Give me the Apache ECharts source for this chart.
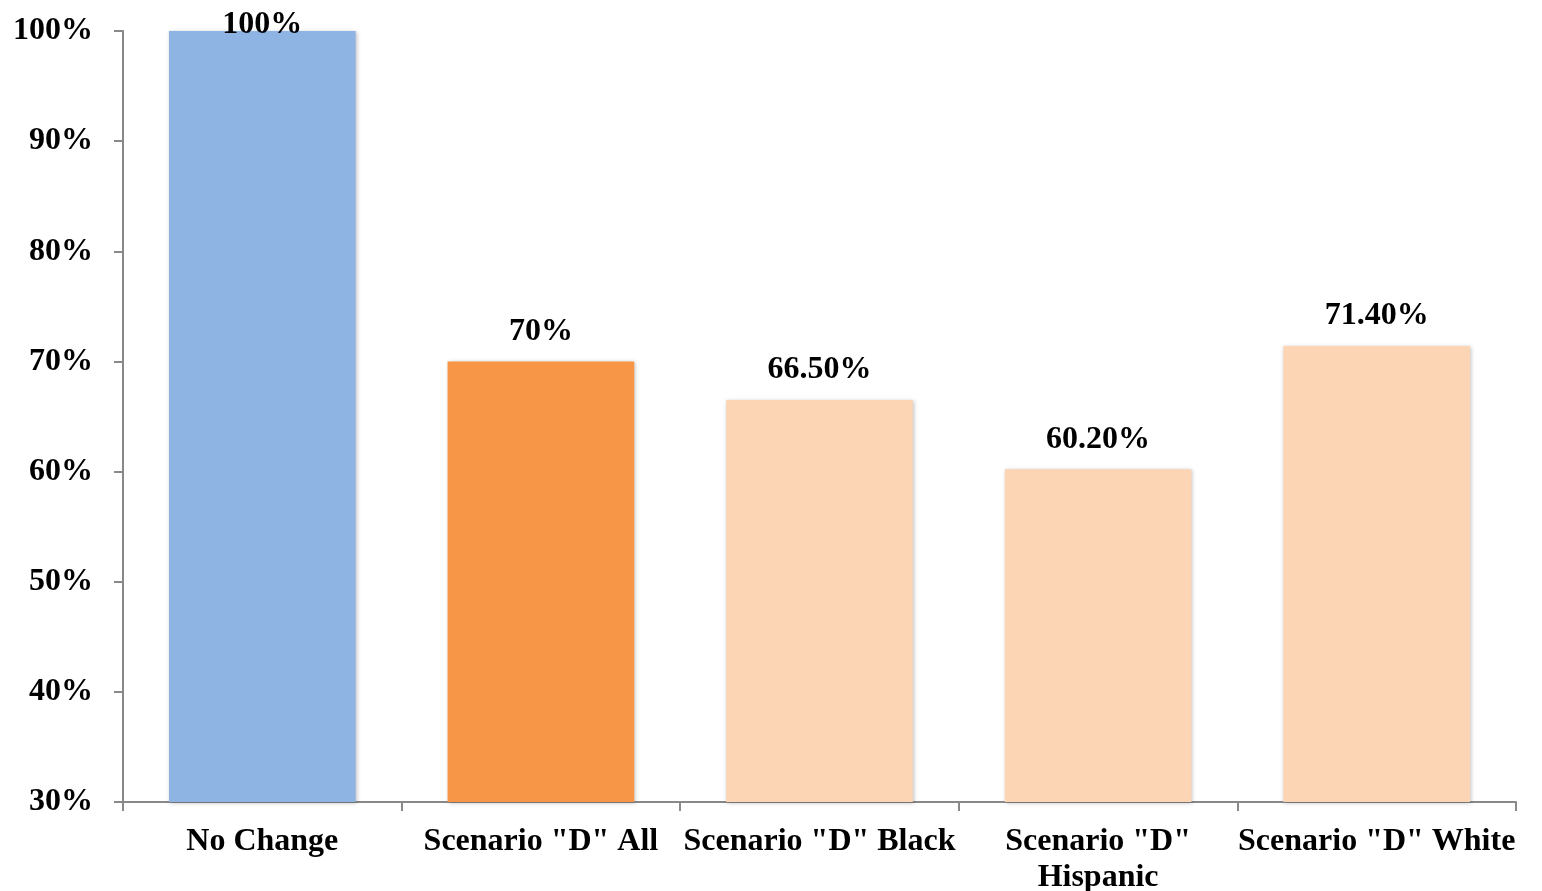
<!DOCTYPE html>
<html><head><meta charset="utf-8">
<script src="https://cdn.jsdelivr.net/npm/echarts@6/dist/echarts.min.js"></script>
<style>html,body{margin:0;padding:0;background:#fff}#c{width:1542px;height:891px}</style>
</head><body><div id="c"></div>
<script>
const categories = ['No Change', 'Scenario "D" All', 'Scenario "D" Black', 'Scenario "D"\nHispanic', 'Scenario "D" White'];
const values = [100, 70, 66.5, 60.2, 71.4];
const valueLabels = ['100%', '70%', '66.50%', '60.20%', '71.40%'];
const yTicks = [30, 40, 50, 60, 70, 80, 90, 100];
const colors = ['#8EB4E3', '#F79646', '#FCD5B5', '#FCD5B5', '#FCD5B5'];

const font = '"Liberation Serif", "Times New Roman", serif';
const chart = echarts.init(document.getElementById('c'));
chart.setOption({
  animation: false,
  grid: {left: 123, right: 26, top: 31, bottom: 89, outerBoundsMode: 'none', containLabel: false},
  xAxis: {
    type: 'category', data: categories,
    axisLine: {lineStyle: {color: '#898989', width: 2}},
    axisTick: {show: true, length: 9, lineStyle: {color: '#898989', width: 2}},
    axisLabel: {color: '#000', fontFamily: font, fontWeight: 'bold', fontSize: 32, margin: 22, lineHeight: 36, interval: 0}
  },
  yAxis: {
    type: 'value', min: yTicks[0], max: yTicks[yTicks.length-1], interval: 10,
    axisLine: {show: true, lineStyle: {color: '#898989', width: 2}},
    axisTick: {show: true, length: 9, lineStyle: {color: '#898989', width: 2}},
    splitLine: {show: false},
    axisLabel: {color: '#000', fontFamily: font, fontWeight: 'bold', fontSize: 32, margin: 30, formatter: v => v + '%'}
  },
  series: [{
    type: 'bar', barWidth: '67%',
    data: values.map((v, i) => ({
      value: v,
      itemStyle: {color: colors[i], shadowColor: 'rgba(0,0,0,0.25)', shadowBlur: 4, shadowOffsetX: 1, shadowOffsetY: 1},
      label: i === 0 ? {position: 'insideTop', distance: -22} : {}
    })),
    label: {
      show: true, position: 'top', distance: 14, color: '#000',
      fontFamily: font, fontWeight: 'bold', fontSize: 32,
      formatter: p => valueLabels[p.dataIndex]
    }
  }]
});
</script></body></html>
